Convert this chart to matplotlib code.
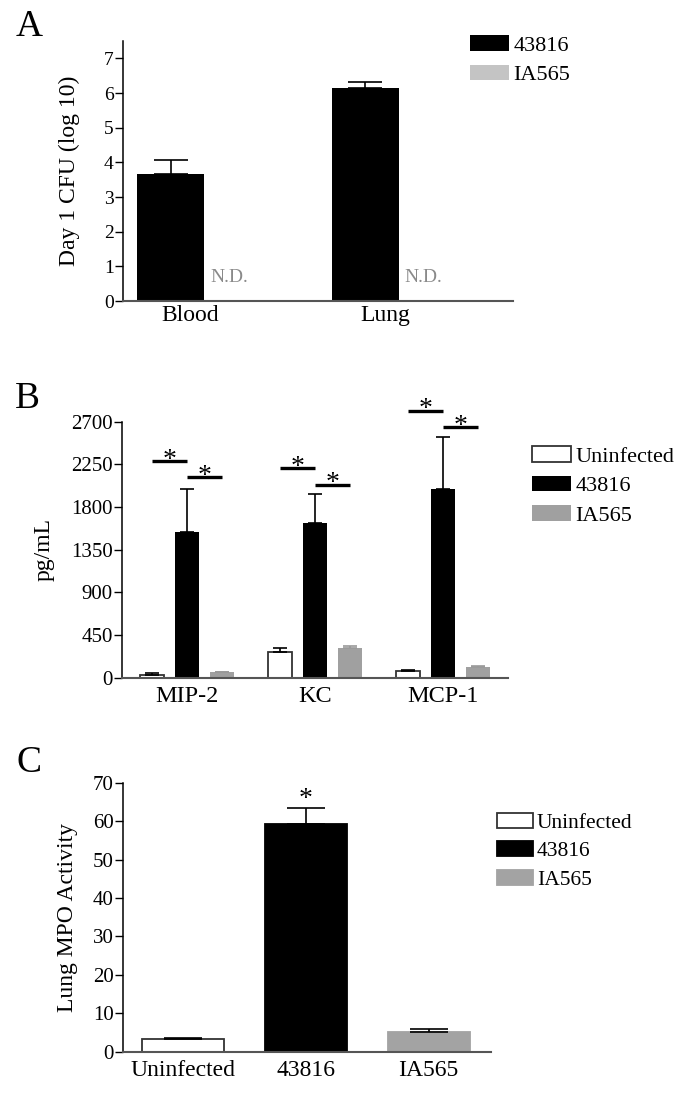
import matplotlib.pyplot as plt
import numpy as np

plt.rcParams['font.family'] = ['Liberation Serif', 'DejaVu Serif']

# Panel A - day 1 CFU (log10)
sites = ['Blood', 'Lung']
cfu_43816 = [3.65, 6.15]
cfu_43816_err = [0.41, 0.17]
cfu_ia565 = [np.nan, np.nan]   # not detected

# Panel B - cytokines (pg/mL)
cytokines = ['MIP-2', 'KC', 'MCP-1']
cyto_uninf = [32, 268, 71]
cyto_uninf_err = [13, 42, 9]
cyto_43816 = [1534, 1636, 1987]
cyto_43816_err = [454, 299, 549]
cyto_ia565 = [58, 317, 116]
cyto_ia565_err = [5, 13, 7]
sig_uninf_vs_43816 = [2286, 2209, 2817]
sig_43816_vs_ia565 = [2114, 2033, 2641]

# Panel C - lung MPO activity
mpo_groups = ['Uninfected', '43816', 'IA565']
mpo_mean = [3.3, 59.3, 5.2]
mpo_err = [0.35, 4.2, 0.6]

W, H = 684, 1094
fig = plt.figure(figsize=(W / 100, H / 100), dpi=100)


def box(l, t, r, b):
    return [l / W, 1 - b / H, (r - l) / W, (b - t) / H]


def style(ax, yfs):
    ax.spines['top'].set_visible(False)
    ax.spines['right'].set_visible(False)
    ax.spines['left'].set_linewidth(1.1)
    ax.spines['bottom'].set_linewidth(1.5)
    ax.spines['bottom'].set_color('#555555')
    ax.tick_params(axis='y', direction='out', length=5.5, width=1.0, pad=1, labelsize=yfs)
    ax.tick_params(axis='x', length=0)


def legend(ax, handles, labels, x, y, fs, hl, hh):
    ax.legend(handles, labels, loc='upper left', bbox_to_anchor=(x / W, 1 - y / H),
              bbox_transform=fig.transFigure, frameon=False, fontsize=fs,
              handlelength=hl, handleheight=hh, handletextpad=0.2,
              labelspacing=0.4, borderpad=0, borderaxespad=0)


# ---------------- A ----------------
axA = fig.add_axes(box(122.7, 41, 512.7, 301))
style(axA, 14)
xa = np.arange(len(sites))
wa = 0.344
b1 = axA.bar(xa, cfu_43816, wa, color='black',
             yerr=[np.zeros(len(xa)), cfu_43816_err], capsize=12,
             error_kw=dict(elinewidth=1.2, capthick=1.2, ecolor='black'))
ia = np.nan_to_num(cfu_ia565)
b2 = axA.bar(xa + wa, ia, wa, color='#c4c4c4', linewidth=0)
for i, v in enumerate(cfu_ia565):
    if np.isnan(v):
        axA.text(xa[i] + wa / 2 + 0.03, 0.69, 'N.D.', color='#8a8a8a',
                 fontsize=14, ha='left', va='center')
axA.set_xlim(-0.248, 1.757)
axA.set_ylim(0, 7.5)
axA.set_yticks(range(0, 8))
axA.set_xticks(xa + 0.1)
axA.set_xticklabels(sites, fontsize=17)
axA.tick_params(axis='x', pad=3)
axA.set_ylabel('Day 1 CFU (log 10)', fontsize=17)
axA.yaxis.set_label_coords(-0.109, 0.5)
legend(axA, [b1, b2], ['43816', 'IA565'], 470, 35, 16, 1.76, 0.72)

# ---------------- B ----------------
axB = fig.add_axes(box(122, 421.7, 508, 677.7))
style(axB, 15)
xb = np.arange(len(cytokines))
off = 0.273
wb = 0.1875
c1 = axB.bar(xb - off, cyto_uninf, wb, color='white', edgecolor='#333333', linewidth=1.3,
             yerr=[np.zeros(3), cyto_uninf_err], capsize=5,
             error_kw=dict(elinewidth=1.2, capthick=1.2, ecolor='black'))
c2 = axB.bar(xb, cyto_43816, wb, color='black',
             yerr=[np.zeros(3), cyto_43816_err], capsize=5,
             error_kw=dict(elinewidth=1.2, capthick=1.2, ecolor='black'))
c3 = axB.bar(xb + off, cyto_ia565, wb, color='#a0a0a0', linewidth=0,
             yerr=[np.zeros(3), cyto_ia565_err], capsize=5,
             error_kw=dict(elinewidth=1.2, capthick=1.2, ecolor='#999999'))
for i in range(len(cytokines)):
    for x0, y in [(xb[i] - off, sig_uninf_vs_43816[i]), (xb[i], sig_43816_vs_ia565[i])]:
        axB.plot([x0, x0 + off], [y, y], color='black', lw=2.4,
                 solid_capstyle='butt', clip_on=False)
        axB.annotate('*', xy=(x0 + off / 2, y), xytext=(0, -4), textcoords='offset points',
                     ha='center', va='baseline', fontsize=20, annotation_clip=False)
axB.set_xlim(-0.508, 2.508)
axB.set_ylim(0, 2700)
axB.set_yticks(range(0, 2701, 450))
axB.set_xticks(xb)
axB.set_xticklabels(cytokines, fontsize=17.5)
axB.tick_params(axis='x', pad=6)
axB.set_ylabel('pg/mL', fontsize=17)
axB.yaxis.set_label_coords(-0.174, 0.5)
legend(axB, [c1, c2, c3], ['Uninfected', '43816', 'IA565'], 532, 446, 16, 1.76, 0.72)

# ---------------- C ----------------
axC = fig.add_axes(box(122.7, 782.7, 490.7, 1051.7))
style(axC, 15)
xc = np.arange(len(mpo_groups))
wc = 0.67
fills = ['white', 'black', '#a3a3a3']
edges = ['#333333', 'black', '#a3a3a3']
handles = []
for i in range(len(mpo_groups)):
    h = axC.bar(xc[i], mpo_mean[i], wc, color=fills[i], edgecolor=edges[i], linewidth=1.3,
                yerr=[[0], [mpo_err[i]]], capsize=14,
                error_kw=dict(elinewidth=1.2, capthick=1.2, ecolor='black'))
    handles.append(h)
axC.annotate('*', xy=(xc[1], mpo_mean[1] + mpo_err[1]), xytext=(0, 1),
             textcoords='offset points', ha='center', va='baseline', fontsize=20)
axC.set_xlim(-0.495, 2.506)
axC.set_ylim(0, 70)
axC.set_yticks(range(0, 71, 10))
axC.set_xticks(xc)
axC.set_xticklabels(mpo_groups, fontsize=17)
axC.tick_params(axis='x', pad=6)
axC.set_ylabel('Lung MPO Activity', fontsize=17)
axC.yaxis.set_label_coords(-0.121, 0.5)
legend(axC, handles, mpo_groups, 496.7, 813, 15.5, 1.67, 0.67)

# panel letters
fig.text(16 / W, 1 - 36 / H, 'A', fontsize=27, va='baseline')
fig.text(15 / W, 1 - 408 / H, 'B', fontsize=27, va='baseline')
fig.text(16 / W, 1 - 772 / H, 'C', fontsize=27, va='baseline')

fig.savefig('out.png', dpi=100)
